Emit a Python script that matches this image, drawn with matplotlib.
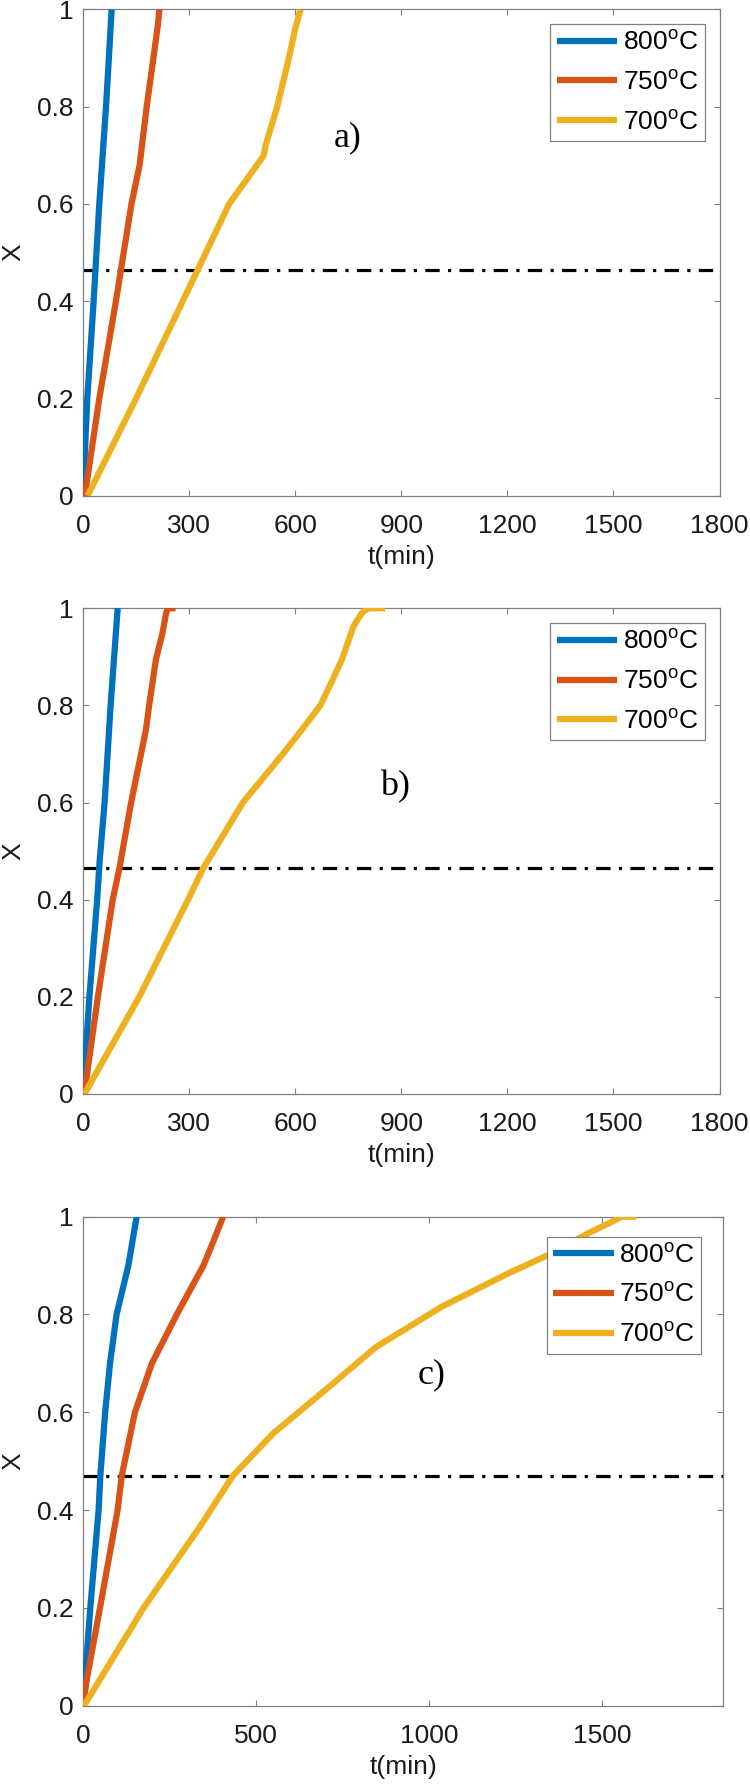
import matplotlib
matplotlib.use("Agg")
import matplotlib.pyplot as plt

plt.rcParams['font.family'] = ['Liberation Sans', 'DejaVu Sans']
plt.rcParams['mathtext.fontset'] = 'custom'
plt.rcParams['mathtext.rm'] = 'Liberation Sans'
plt.rcParams['mathtext.it'] = 'Liberation Sans:italic'

# ---------------- data ----------------
labels = ['800$^{\\mathrm{o}}$C', '750$^{\\mathrm{o}}$C', '700$^{\\mathrm{o}}$C']
colors = ['#0072BD', '#D95319', '#EDB120']

# panel a
a_t800 = [0, 12, 30, 46, 65, 81]
a_x800 = [0, 0.2, 0.4, 0.6, 0.8, 1.0]
a_t750 = [5, 46, 93, 137, 160, 180, 199, 212, 216]
a_x750 = [0, 0.2, 0.4, 0.6, 0.68, 0.8, 0.9, 0.97, 1.0]
a_t700 = [13, 150, 282, 413, 492, 511, 516, 549, 582, 600, 615]
a_x700 = [0, 0.2, 0.4, 0.6, 0.68, 0.70, 0.72, 0.8, 0.9, 0.96, 1.0]
a_ref = 0.464

# panel b
b_t800 = [0, 18, 40, 47, 61, 78, 98]
b_x800 = [0, 0.2, 0.4, 0.48, 0.6, 0.8, 1.0]
b_t750 = [4, 13, 42, 84, 103, 136, 178, 187, 206, 225, 235, 240, 262]
b_x750 = [0, 0.05, 0.2, 0.4, 0.465, 0.6, 0.75, 0.8, 0.894, 0.95, 0.99, 1.0, 1.0]
b_t700 = [4, 159, 297, 340, 452, 565, 619, 671, 704, 732, 765, 788, 807, 854]
b_x700 = [0, 0.2, 0.4, 0.465, 0.6, 0.7, 0.75, 0.8, 0.85, 0.894, 0.963, 0.99, 1.0, 1.0]
b_ref = 0.465

# panel c
c_t800 = [0, 21, 45, 50, 64, 78, 97, 131, 155]
c_x800 = [0, 0.2, 0.4, 0.47, 0.6, 0.7, 0.8, 0.9, 1.0]
c_t750 = [0, 10, 49, 100, 112, 150, 199, 271, 348, 377, 405]
c_x750 = [0, 0.05, 0.2, 0.4, 0.47, 0.6, 0.7, 0.8, 0.9, 0.95, 1.0]
c_t700 = [3, 175, 338, 433, 550, 723, 846, 1037, 1229, 1355, 1460, 1530, 1557, 1600]
c_x700 = [0, 0.2, 0.366, 0.47, 0.557, 0.659, 0.733, 0.816, 0.884, 0.925, 0.966, 0.99, 1.0, 1.0]
c_ref = 0.470

yticks = [0, 0.2, 0.4, 0.6, 0.8, 1.0]
yticklabels = ['0', '0.2', '0.4', '0.6', '0.8', '1']
ab_xticks = [0, 300, 600, 900, 1200, 1500, 1800]
c_xticks = [0, 500, 1000, 1500]

panels = [
    dict(rect=[0.1107, 0.7229, 0.8487, 0.2718], xlim=(0, 1800), xticks=ab_xticks,
         series=[(a_t800, a_x800), (a_t750, a_x750), (a_t700, a_x700)], ref=a_ref,
         tag='a)', tagpos=(748, 0.737), leg=(0.9764, 0.9696)),
    dict(rect=[0.1107, 0.3885, 0.8487, 0.2715], xlim=(0, 1800), xticks=ab_xticks,
         series=[(b_t800, b_x800), (b_t750, b_x750), (b_t700, b_x700)], ref=b_ref,
         tag='b)', tagpos=(883, 0.632), leg=(0.9764, 0.969)),
    dict(rect=[0.1107, 0.0466, 0.8533, 0.2733], xlim=(0, 1850), xticks=c_xticks,
         series=[(c_t800, c_x800), (c_t750, c_x750), (c_t700, c_x700)], ref=c_ref,
         tag='c)', tagpos=(1009, 0.676), leg=(0.9656, 0.959)),
]

FS = 19
fig = plt.figure(figsize=(7.5, 17.89), dpi=100)

for p in panels:
    ax = fig.add_axes(p['rect'])
    handles = []
    for (t, x), col, lab in zip(p['series'], colors, labels):
        h, = ax.plot(t, x, color=col, lw=4.5, label=lab, solid_joinstyle='round',
                     solid_capstyle='butt', zorder=3)
        handles.append(h)
    ax.plot(list(p['xlim']), [p['ref'], p['ref']], color='black', lw=2.3,
            linestyle=(0, (4.5, 2.6, 1.0, 2.6)), zorder=2)
    ax.set_xlim(*p['xlim'])
    ax.set_ylim(0, 1)
    ax.set_xticks(p['xticks'])
    ax.set_xticklabels([str(v) for v in p['xticks']])
    ax.set_yticks(yticks)
    ax.set_yticklabels(yticklabels)
    ax.tick_params(direction='in', length=4, width=0.8, color='#808080',
                   top=True, right=True, labelsize=FS, labelcolor='#1a1a1a')
    ax.tick_params(axis='x', pad=13)
    ax.tick_params(axis='y', pad=7)
    for s in ax.spines.values():
        s.set_color('#808080')
        s.set_linewidth(0.9)
    ax.set_xlabel('t(min)', fontsize=FS, color='#1a1a1a', labelpad=5)
    ax.set_ylabel('X', fontsize=FS, color='#1a1a1a', labelpad=8)
    ax.text(p['tagpos'][0], p['tagpos'][1], p['tag'], family=['Liberation Serif'],
            fontsize=26, ha='center', va='center', color='black', zorder=4)
    leg = ax.legend(handles=handles, loc='upper right', bbox_to_anchor=p['leg'],
                    borderaxespad=0, fontsize=FS, frameon=True, fancybox=False,
                    framealpha=1, edgecolor='#808080', handlelength=2.3,
                    handletextpad=0.2, labelspacing=0.6, borderpad=0.25)
    leg.get_frame().set_linewidth(0.9)
    leg.set_zorder(5)

fig.savefig('out.png', dpi=100)
